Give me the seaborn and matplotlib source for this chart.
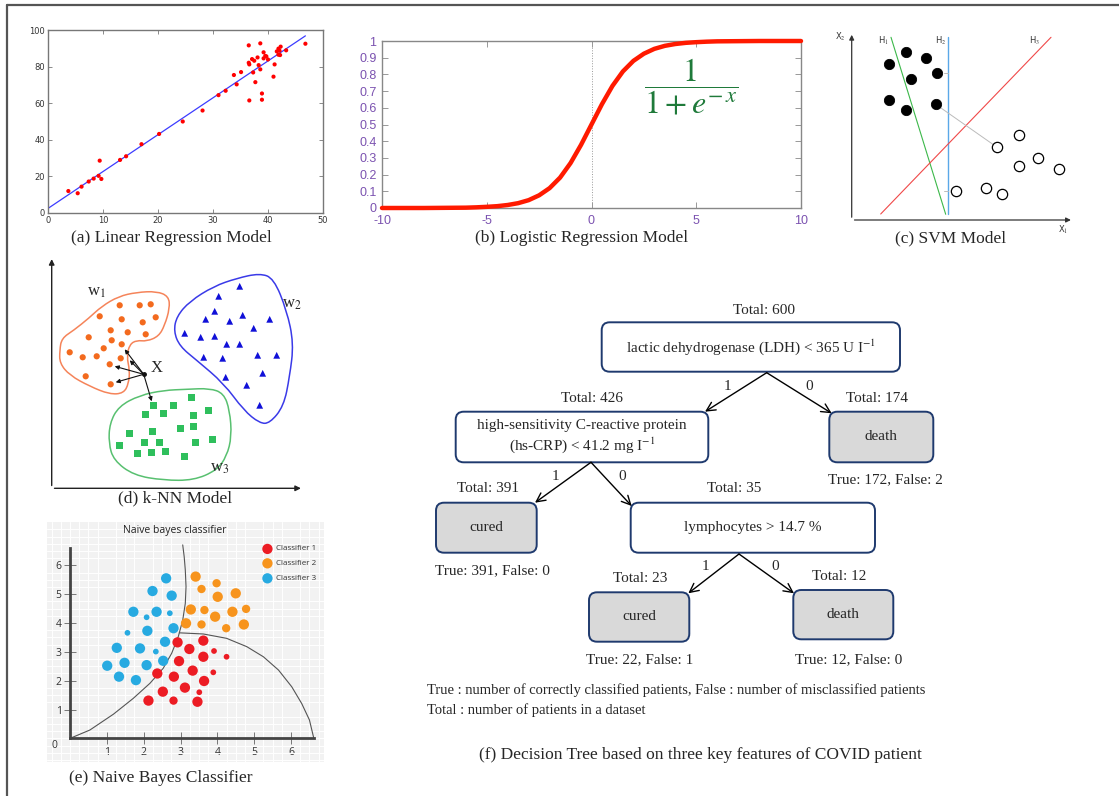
import numpy as np
import pandas as pd
import seaborn as sns
import matplotlib.pyplot as plt
from matplotlib.path import Path
from matplotlib.patches import PathPatch, FancyBboxPatch

W, H = 1119, 796

#------------------------------------------------------------------------------
# (a) linear regression
lr_x = [3.7, 5.4, 6.1, 7.4, 8.3, 9.2, 9.4, 9.7, 13.1, 14.2, 17.0, 20.2, 24.5,
        28.1, 31.0, 32.3, 33.8, 34.3, 35.1, 36.5, 36.5, 36.6, 36.6, 37.1, 37.3,
        37.5, 37.7, 38.1, 38.3, 38.6, 38.6, 38.9, 38.9, 39.2, 39.2, 39.5, 39.7,
        40.0, 41.0, 41.2, 41.6, 41.9, 41.9, 42.2, 42.3, 42.1, 43.3, 46.8]
lr_y = [12.0, 10.8, 14.4, 17.2, 18.8, 20.3, 28.6, 18.6, 29.0, 31.0, 37.6, 43.2, 50.0,
        56.0, 64.4, 66.8, 75.4, 70.3, 77.0, 91.6, 82.1, 81.2, 61.5, 84.1, 76.8,
        83.2, 71.5, 85.0, 80.8, 92.7, 78.5, 65.3, 61.9, 87.8, 84.5, 85.8, 85.6,
        83.9, 74.5, 81.2, 88.3, 89.8, 86.5, 86.3, 90.9, 88.7, 88.9, 92.5]
fit_x = [0, 46.8]
fit_y = [2.5, 96.8]

# (b) logistic curve
sig_x = [-10, -9, -8, -7, -6, -5.5, -5, -4.5, -4, -3.5, -3, -2.5, -2, -1.5, -1, -0.5,
         0, 0.5, 1, 1.5, 2, 2.5, 3, 3.5, 4, 4.5, 5, 5.5, 6, 7, 8, 9, 10]
sig_y = [0.0, 0.0, 0.0, 0.001, 0.002, 0.004, 0.007, 0.011, 0.018, 0.029, 0.047, 0.076,
         0.119, 0.182, 0.269, 0.378, 0.5, 0.622, 0.731, 0.818, 0.881, 0.924, 0.953,
         0.971, 0.982, 0.989, 0.993, 0.996, 0.998, 0.999, 1.0, 1.0, 1.0]
sig_xticks = [-10, -5, 0, 5, 10]
sig_yticks = [0, 0.1, 0.2, 0.3, 0.4, 0.5, 0.6, 0.7, 0.8, 0.9, 1]
sig_ylabels = ['0', '0.1', '0.2', '0.3', '0.4', '0.5', '0.6', '0.7', '0.8', '0.9', '1']

# (c) SVM
svm_pos_x = [37.7, 54.3, 74.3, 85.7, 59.0, 37.7, 54.3, 84.0]
svm_pos_y = [155.7, 167.7, 161.7, 147.3, 140.7, 120.0, 110.0, 115.7]
svm_neg_x = [167.7, 145.0, 186.7, 167.7, 207.0, 104.3, 134.3, 150.7]
svm_neg_y = [85.0, 73.0, 62.0, 54.0, 51.3, 28.7, 32.3, 26.0]
h1_x, h1_y = [39.3, 94.0], [182.7, 5.7]
h2_x, h2_y = [96.0, 96.0], [182.7, 5.7]
h3_x, h3_y = [29.0, 199.3], [6.0, 182.7]
margin_x, margin_y = [84.0, 145.0], [115.7, 73.0]

# (d) k-NN
w1_x = [68, 88, 99, 48, 70, 91, 104, 59, 76, 94, 37, 60, 70, 52, 18, 31, 45, 69, 58, 34, 59]
w1_y = [183, 183, 184, 172, 169, 166, 171, 158, 156, 154, 151, 148, 144, 140, 136, 131,
        132, 130, 124, 112, 104]
w2_x = [188, 167, 163, 154, 178, 191, 218, 202, 133, 149, 163, 175, 188, 152, 171, 206,
        225, 211, 174, 195, 208]
w2_y = [202, 192, 177, 169, 167, 173, 169, 160, 155, 151, 152, 144, 144, 131, 130, 133,
        133, 115, 111, 103, 83]
w3_x = [140, 102, 122, 157, 94, 112, 142, 129, 142, 101, 78, 161, 93, 108, 144, 68, 86,
        100, 114, 133]
w3_y = [91, 83, 83, 78, 74, 75, 73, 60, 62, 57, 55, 49, 46, 46, 46, 43, 35, 36, 37, 32]
query = (92, 114)
nn_x = [73, 78, 63, 64, 100]
nn_y = [139, 128, 122, 106, 87]
blob1 = [(8, 138), (10, 150), (22, 158), (37, 170), (50, 182), (67, 192), (85, 196),
         (105, 197), (117, 192), (118, 180), (113, 163), (107, 152), (95, 147), (85, 148),
         (78, 144), (75, 132), (78, 118), (77, 105), (72, 95), (58, 94), (38, 102),
         (18, 113), (8, 125)]
blob2 = [(122, 157), (125, 172), (138, 187), (162, 202), (185, 210), (208, 215),
         (222, 210), (235, 178), (242, 145), (238, 112), (232, 82), (218, 65), (208, 65),
         (192, 78), (172, 105), (145, 128), (128, 142)]
blob3 = [(58, 65), (67, 82), (88, 93), (112, 98), (135, 99), (158, 100), (172, 95),
         (178, 78), (180, 52), (175, 32), (165, 18), (142, 8), (112, 8), (82, 13),
         (62, 28), (57, 45)]

# (e) naive bayes
nb_c3_x = [2.61, 2.24, 2.76, 1.72, 2.35, 2.08, 2.71, 2.81, 2.10, 1.56, 2.58, 1.27, 1.90,
           2.33, 2.53, 1.48, 2.08, 1.01, 1.33, 1.79]
nb_c3_y = [5.55, 5.11, 4.95, 4.39, 4.39, 4.20, 4.34, 3.82, 3.73, 3.66, 3.35, 3.14, 3.12,
           3.01, 2.69, 2.62, 2.54, 2.52, 2.14, 2.02]
nb_c3_s = ['L', 'L', 'L', 'L', 'L', 'S', 'S', 'L', 'L', 'S', 'L', 'L', 'L', 'S', 'L', 'L',
           'L', 'L', 'L', 'L']
nb_c2_x = [3.41, 3.98, 3.57, 4.01, 4.50, 3.28, 3.65, 3.94, 4.41, 4.78, 3.15, 3.57, 4.24, 4.72]
nb_c2_y = [5.61, 5.38, 5.18, 4.91, 5.03, 4.47, 4.45, 4.22, 4.39, 4.49, 3.99, 3.95, 3.82, 3.95]
nb_c2_s = ['L', 'M', 'M', 'L', 'L', 'L', 'M', 'L', 'L', 'M', 'L', 'M', 'M', 'L']
nb_c1_x = [2.92, 3.62, 3.24, 3.91, 4.25, 3.62, 2.96, 3.33, 2.37, 2.82, 3.89, 3.64, 3.12,
           2.52, 3.51, 2.13, 2.81, 3.46]
nb_c1_y = [3.33, 3.39, 3.10, 3.03, 2.83, 2.83, 2.68, 2.35, 2.25, 2.14, 2.29, 1.99, 1.76,
           1.62, 1.60, 1.31, 1.31, 1.27]
nb_c1_s = ['L', 'L', 'L', 'S', 'S', 'L', 'L', 'L', 'L', 'L', 'S', 'L', 'L', 'L', 'S', 'L',
           'M', 'L']
bnd1_x = [0, 0.54, 1.18, 1.72, 2.17, 2.53, 2.76, 2.94, 3.06, 3.13, 3.15, 3.13, 3.10, 3.06]
bnd1_y = [0, 0.29, 0.84, 1.39, 1.91, 2.43, 2.95, 3.53, 4.10, 4.68, 5.26, 5.84, 6.30, 6.71]
bnd2_x = [2.97, 3.62, 4.25, 4.80, 5.25, 5.66, 6.02, 6.29, 6.50, 6.62]
bnd2_y = [3.66, 3.62, 3.47, 3.18, 2.83, 2.37, 1.79, 1.21, 0.64, 0]
nb_classes = ['Classifier 1', 'Classifier 2', 'Classifier 3']

# (f) decision tree
tree_totals = [600, 426, 174, 391, 35, 23, 12]
tree_tf = {'death_a': (172, 2), 'cured_a': (391, 0), 'cured_b': (22, 1), 'death_b': (12, 0)}

#------------------------------------------------------------------------------
sns.set_theme(style='white')
plt.rcParams['font.family'] = ['Liberation Serif', 'DejaVu Sans']
plt.rcParams['mathtext.fontset'] = 'stix'
plt.rcParams['axes.unicode_minus'] = False

fig = plt.figure(figsize=(W / 100, H / 100), dpi=100)


def px_axes(left, top, right, bottom):
    return fig.add_axes([left / W, 1 - bottom / H, (right - left) / W, (bottom - top) / H])


def line(ax, x, y, color, lw, **kw):
    sns.lineplot(x=x, y=y, color=color, linewidth=lw, ax=ax, sort=False,
                 estimator=None, **kw)


def smooth_patch(pts, color):
    # closed quadratic b-spline through the midpoints of the outline
    pts = np.asarray(pts, float)
    n = len(pts)
    mids = (pts + np.roll(pts, -1, axis=0)) / 2
    verts = [mids[-1]]
    codes = [Path.MOVETO]
    for i in range(n):
        verts += [pts[i], mids[i]]
        codes += [Path.CURVE3, Path.CURVE3]
    return PathPatch(Path(verts, codes), facecolor='none', edgecolor=color, lw=1.1)


# overlay for frame, captions and tree
ov = fig.add_axes([0, 0, 1, 1])
ov.set_xlim(0, W)
ov.set_ylim(H, 0)
ov.axis('off')
ov.plot([7, W], [5, 5], color='#555555', lw=1.6)
ov.plot([7, 7], [5, H], color='#555555', lw=1.6)

cap = dict(fontsize=12.5, ha='center', va='center')
ov.text(171, 238, '(a) Linear Regression Model', **cap)
ov.text(582, 238, '(b) Logistic Regression Model', **cap)
ov.text(951, 238, '(c) SVM Model', **cap)
ov.text(175, 498, '(d) k-NN Model', **cap)
ov.text(161, 778, '(e) Naive Bayes Classifier', **cap)
ov.text(700, 755, '(f) Decision Tree based on three key features of COVID patient', **cap)

#------------
ax1 = px_axes(48, 30, 323, 213)
sns.scatterplot(x=lr_x, y=lr_y, color='#ff0000', s=9, edgecolor='none', ax=ax1, zorder=3)
line(ax1, fit_x, fit_y, '#3c3cff', 0.9)
ax1.set_xlim(0, 50)
ax1.set_ylim(0, 100)
ax1.set_xticks([0, 10, 20, 30, 40, 50])
ax1.set_yticks([0, 20, 40, 60, 80, 100])
ax1.tick_params(direction='in', length=3, width=0.6, color='#777777', labelsize=6,
                labelcolor='#333333', bottom=True, top=True, left=True, right=True, pad=2)
for lab in ax1.get_xticklabels() + ax1.get_yticklabels():
    lab.set_family('DejaVu Sans')
for sp in ax1.spines.values():
    sp.set_color('#777777')
    sp.set_linewidth(1.0)

#------------
ax2 = px_axes(382, 41, 801, 208)
ax2.axvline(0, color='#999999', lw=0.7, ls=':')
line(ax2, sig_x, sig_y, '#ff1a00', 3.2, clip_on=False, zorder=4)
ax2.set_xlim(-10, 10)
ax2.set_ylim(0, 1)
ax2.set_xticks(sig_xticks)
ax2.set_yticks(sig_yticks)
ax2.set_yticklabels(sig_ylabels)
ax2.tick_params(direction='in', length=4, width=0.6, color='#888888', labelsize=9,
                labelcolor='#7b52b0', bottom=True, top=True, left=True, right=True, pad=3)
ax2.tick_params(axis='x', pad=5)
ax2.tick_params(axis='y', pad=4)
for lab in ax2.get_xticklabels() + ax2.get_yticklabels():
    lab.set_family('Liberation Sans')
for sp in ax2.spines.values():
    sp.set_color('#888888')
    sp.set_linewidth(1.0)
ax2.text(4.75, 0.73, r'$\dfrac{1}{1+e^{-\,x}}$', color='#1f7a3a', fontsize=23,
         ha='center', va='center')

#------------
ax3 = px_axes(851.7, 32, 1073.7, 220)
ax3.set_xlim(0, 222)
ax3.set_ylim(0, 188)
ax3.axis('off')
ax3.annotate('', xy=(222, 0), xytext=(0, 0),
             arrowprops=dict(arrowstyle='-|>', color='#333333', lw=0.9, mutation_scale=7))
ax3.annotate('', xy=(0, 188), xytext=(0, 0),
             arrowprops=dict(arrowstyle='-|>', color='#333333', lw=0.9, mutation_scale=7))
line(ax3, h1_x, h1_y, '#3cb84a', 0.8)
line(ax3, h2_x, h2_y, '#5aa8e8', 1.0)
line(ax3, h3_x, h3_y, '#f04848', 0.8)
line(ax3, margin_x, margin_y, '#bbbbbb', 0.7)
ax3.plot([92.3, 96], [147.3, 147.3], color='#bbbbbb', lw=0.7)
ax3.plot([92.3, 96], [28.7, 28.7], color='#bbbbbb', lw=0.7)
sns.scatterplot(x=svm_pos_x, y=svm_pos_y, color='black', s=55, edgecolor='black', ax=ax3,
                zorder=4)
sns.scatterplot(x=svm_neg_x, y=svm_neg_y, color='white', s=55, edgecolor='black',
                linewidth=0.9, ax=ax3, zorder=4)
sf = dict(family='DejaVu Sans', fontsize=6, color='#333333', ha='center', va='center')
ax3.text(-11, 183, r'X$_2$', **sf)
ax3.text(211.7, -10, r'X$_1$', **sf)
ax3.text(31.7, 179, r'H$_1$', **sf)
ax3.text(89, 179, r'H$_2$', **sf)
ax3.text(183, 179, r'H$_3$', **sf)

#------------
ax4 = px_axes(51.7, 256.3, 303.7, 488.3)
ax4.set_xlim(0, 252)
ax4.set_ylim(0, 232)
ax4.axis('off')
ax4.annotate('', xy=(252, 0), xytext=(0, 0),
             arrowprops=dict(arrowstyle='-|>', color='#222222', lw=1.0, mutation_scale=8))
ax4.annotate('', xy=(0, 232), xytext=(0, 0),
             arrowprops=dict(arrowstyle='-|>', color='#222222', lw=1.0, mutation_scale=8))
ax4.add_patch(smooth_patch(blob1, '#f5845a'))
ax4.add_patch(smooth_patch(blob2, '#3a3ae8'))
ax4.add_patch(smooth_patch(blob3, '#58c070'))
sns.scatterplot(x=w1_x, y=w1_y, color='#f36a1e', s=20, edgecolor='none', ax=ax4)
sns.scatterplot(x=w2_x, y=w2_y, color='#1010d8', s=24, marker='^', edgecolor='none', ax=ax4)
sns.scatterplot(x=w3_x, y=w3_y, color='#2fbf5c', s=22, marker='s', edgecolor='none', ax=ax4)
for hx, hy in zip(nn_x, nn_y):
    ax4.annotate('', xy=(hx, hy), xytext=query,
                 arrowprops=dict(arrowstyle='-|>', color='#111111', lw=0.8,
                                 mutation_scale=6, shrinkA=0, shrinkB=0))
ax4.plot(*query, marker='o', color='#111111', ms=2.5)
ax4.text(105, 120, 'X', fontsize=12, ha='center', va='center')
ax4.text(45, 196, r'w$_1$', fontsize=12, ha='center', va='center')
ax4.text(240, 184, r'w$_2$', fontsize=12, ha='center', va='center')
ax4.text(168, 20, r'w$_3$', fontsize=12, ha='center', va='center')

#------------
nb = pd.DataFrame({
    'x': nb_c1_x + nb_c2_x + nb_c3_x,
    'y': nb_c1_y + nb_c2_y + nb_c3_y,
    'cls': [nb_classes[0]] * len(nb_c1_x) + [nb_classes[1]] * len(nb_c2_x)
           + [nb_classes[2]] * len(nb_c3_x),
    'r': nb_c1_s + nb_c2_s + nb_c3_s,
})
nb_pal = {'Classifier 1': '#ec1c24', 'Classifier 2': '#f7941d', 'Classifier 3': '#27aae1'}

ax5 = px_axes(46.7, 521.7, 324, 761.7)
ax5.set_facecolor('#f2f2f2')
ax5.set_xticks(np.arange(-0.5, 7.0, 0.25), minor=True)
ax5.set_yticks(np.arange(-0.75, 7.5, 0.25), minor=True)
ax5.grid(which='minor', color='white', lw=0.7)
ax5.grid(which='major', visible=False)
ax5.set_axisbelow(True)
for side in ['top', 'right']:
    ax5.spines[side].set_visible(False)
ax5.spines['left'].set_position(('data', 0))
ax5.spines['bottom'].set_position(('data', 0))
ax5.spines['left'].set_bounds(0, 6.6)
ax5.spines['bottom'].set_bounds(0, 6.62)
for side in ['left', 'bottom']:
    ax5.spines[side].set_color('#444444')
    ax5.spines[side].set_linewidth(2.0)
line(ax5, bnd1_x, bnd1_y, '#555555', 0.8)
line(ax5, bnd2_x, bnd2_y, '#555555', 0.8)
sns.scatterplot(data=nb, x='x', y='y', hue='cls', palette=nb_pal, size='r',
                sizes={'L': 55, 'M': 36, 'S': 17}, edgecolor='none', legend=False,
                ax=ax5, zorder=4)
ax5.set_xlabel('')
ax5.set_ylabel('')
ax5.set_xlim(-0.633, 6.896)
ax5.set_ylim(-0.809, 7.514)
ax5.set_xticks([1, 2, 3, 4, 5, 6])
ax5.set_yticks([1, 2, 3, 4, 5, 6])
ax5.tick_params(which='major', direction='inout', length=8, width=0.7, color='#777777',
                labelsize=7.5, labelcolor='#333333', bottom=True, left=True, pad=2)
ax5.tick_params(which='minor', length=0)
for lab in ax5.get_xticklabels() + ax5.get_yticklabels():
    lab.set_family('Open Sans')
ax5.text(-0.42, -0.25, '0', fontsize=7.5, family='Open Sans', color='#333333',
         ha='center', va='center')
ax5.text(2.85, 7.2, 'Naive bayes classifier', fontsize=7.5, family='Open Sans',
         color='#222222', ha='center', va='center')
leg_y = [6.57, 6.07, 5.55]
for name, ly in zip(nb_classes, leg_y):
    ax5.scatter([5.36], [ly], s=55, color=nb_pal[name], edgecolor='none', zorder=4)
    ax5.text(5.59, ly, name, fontsize=5.8, family='Open Sans', color='#333333',
             va='center', ha='left')

#------------
edge_c = '#1f3a6e'


def node(x0, y0, x1, y1, text, fill):
    ov.add_patch(FancyBboxPatch((x0, y0), x1 - x0, y1 - y0,
                                boxstyle='round,pad=0,rounding_size=8',
                                facecolor=fill, edgecolor=edge_c, lw=1.4))
    ov.text((x0 + x1) / 2, (y0 + y1) / 2, text, fontsize=11, ha='center', va='center',
            linespacing=1.25)


def arrow(x0, y0, x1, y1):
    ov.annotate('', xy=(x1, y1), xytext=(x0, y0),
                arrowprops=dict(arrowstyle='->', lw=1.0, color='black',
                                mutation_scale=16, shrinkA=0, shrinkB=0))


tf = dict(fontsize=11, ha='center', va='center')
node(601.7, 322.3, 900, 371.7, r'lactic dehydrogenase (LDH) < 365 U I$^{-1}$', 'white')
ov.text(764, 310, f'Total: {tree_totals[0]}', **tf)
node(455.7, 411.7, 708.3, 462.3,
     'high-sensitivity C-reactive protein\n' + r'(hs-CRP) < 41.2 mg I$^{-1}$', 'white')
ov.text(592, 399, f'Total: {tree_totals[1]}', **tf)
node(829.3, 411.7, 933.3, 462.3, 'death', '#d9d9d9')
ov.text(877, 399, f'Total: {tree_totals[2]}', **tf)
ov.text(885, 480, 'True: %d, False: %d' % tree_tf['death_a'], **tf)
arrow(766.7, 372.7, 705, 411.7)
arrow(766.7, 372.7, 831.7, 413.3)
ov.text(727, 387, '1', **tf)
ov.text(809, 387, '0', **tf)

node(436, 502.7, 536.7, 552.7, 'cured', '#d9d9d9')
ov.text(488, 489, f'Total: {tree_totals[3]}', **tf)
ov.text(492, 571, 'True: %d, False: %d' % tree_tf['cured_a'], **tf)
node(630.7, 502.7, 875, 552.7, 'lymphocytes > 14.7 %', 'white')
ov.text(734, 489, f'Total: {tree_totals[4]}', **tf)
arrow(591, 462.3, 535, 502.7)
arrow(591, 462.3, 631.7, 506)
ov.text(555, 477, '1', **tf)
ov.text(622, 477, '0', **tf)

node(589, 592.3, 689.3, 641.7, 'cured', '#d9d9d9')
ov.text(640, 578, f'Total: {tree_totals[5]}', **tf)
ov.text(640, 660, 'True: %d, False: %d' % tree_tf['cured_b'], **tf)
node(793.3, 590, 893.3, 639.3, 'death', '#d9d9d9')
ov.text(839, 577, f'Total: {tree_totals[6]}', **tf)
ov.text(849, 660, 'True: %d, False: %d' % tree_tf['death_b'], **tf)
arrow(739, 554, 688.3, 593.3)
arrow(739, 554, 794, 593.3)
ov.text(705, 567, '1', **tf)
ov.text(775, 567, '0', **tf)

ov.text(427, 690, 'True : number of correctly classified patients, False : number of '
        'misclassified patients', fontsize=10.5, ha='left', va='center')
ov.text(427, 710, 'Total : number of patients in a dataset', fontsize=10.5, ha='left',
        va='center')

fig.savefig('out.png', dpi=100)
